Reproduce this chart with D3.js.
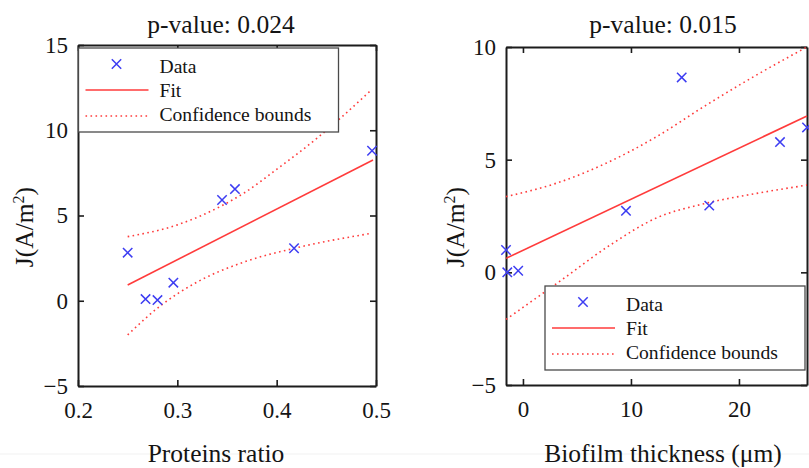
<!DOCTYPE html>
<html>
<head>
<meta charset="utf-8">
<script src="https://cdn.jsdelivr.net/npm/d3@7"></script>
<style>
  html, body { margin: 0; padding: 0; background: #fff; }
  svg { display: block; }
</style>
</head>
<body>
<div id="chart"></div>
<script>
// ---------- Panel 1: Proteins ratio ----------
const proteinsRatio = [0.25, 0.268, 0.28, 0.296, 0.345, 0.358, 0.4175, 0.496];
const proteinsJ     = [2.82, 0.10, 0.04, 1.06, 5.91, 6.55, 3.08, 8.80];
const proteinsFitX  = [0.25, 0.497];
const proteinsFitY  = [0.92, 8.26];
const proteinsUpperX = [0.25, 0.30, 0.344, 0.368, 0.401, 0.442, 0.464, 0.496];
const proteinsUpperY = [3.76, 4.45, 5.55, 6.35, 7.75, 9.60, 10.70, 12.40];
const proteinsLowerX = [0.25, 0.284, 0.3175, 0.368, 0.418, 0.496];
const proteinsLowerY = [-2.00, -0.25, 1.02, 2.29, 3.08, 3.96];
const proteinsXTicks = [0.2, 0.3, 0.4, 0.5];
const proteinsYTicks = [-5, 0, 5, 10, 15];

// ---------- Panel 2: Biofilm thickness ----------
const biofilmThickness = [-1.57, -1.45, -0.44, 9.54, 14.7, 17.25, 23.8, 26.3];
const biofilmJ         = [0.99, 0.00, 0.07, 2.73, 8.65, 2.96, 5.78, 6.43];
const biofilmFitX  = [-1.57, 26.3];
const biofilmFitY  = [0.62, 6.94];
const biofilmUpperX = [-1.57, 3.06, 7.69, 12.3, 16.9, 21.6, 26.3];
const biofilmUpperY = [3.36, 3.95, 4.84, 6.00, 7.40, 8.75, 10.00];
const biofilmLowerX = [-1.57, 3.4, 8.2, 12.3, 16.9, 21.6, 26.3];
const biofilmLowerY = [-2.09, -0.40, 1.25, 2.40, 3.06, 3.50, 3.87];
const biofilmXTicks = [0, 10, 20];
const biofilmYTicks = [-5, 0, 5, 10];

const titles  = ["p-value: 0.024", "p-value: 0.015"];
const xLabels = ["Proteins ratio", "Biofilm thickness (\u03bcm)"];
const legendLabels = ["Data", "Fit", "Confidence bounds"];

const W = 809, H = 468;
const BLUE = "#3d3df2", RED = "#ff3b3b", AXIS = "#1c1c1c";
const FONT = '"Liberation Serif", "Times New Roman", Times, serif';
const CROSS = "M-4.7,-4.7L4.7,4.7M-4.7,4.7L4.7,-4.7";

const svg = d3.select("#chart").append("svg")
  .attr("width", W).attr("height", H);

svg.append("rect").attr("width", W).attr("height", H).attr("fill", "#fff");
// faint scan line of the source picture
svg.append("line").attr("x1", 0).attr("x2", W).attr("y1", 454).attr("y2", 454)
  .attr("stroke", "#f1f1f1").attr("stroke-width", 1);

const panels = [
  {
    title: titles[0], xLabel: xLabels[0],
    xs: proteinsRatio, ys: proteinsJ,
    fitX: proteinsFitX, fitY: proteinsFitY,
    upX: proteinsUpperX, upY: proteinsUpperY,
    loX: proteinsLowerX, loY: proteinsLowerY,
    xDomain: [0.2, 0.5], yDomain: [-5, 15],
    xTicks: proteinsXTicks, yTicks: proteinsYTicks, xFmt: d3.format(".1f"),
    left: 78, right: 376, top: 45, bottom: 386,
    legend: { x: 78.5, y: 48 },
    titleX: 221, xLabelX: 216, yLabelX: 24
  },
  {
    title: titles[1], xLabel: xLabels[1],
    xs: biofilmThickness, ys: biofilmJ,
    fitX: biofilmFitX, fitY: biofilmFitY,
    upX: biofilmUpperX, upY: biofilmUpperY,
    loX: biofilmLowerX, loY: biofilmLowerY,
    xDomain: [-1.57, 26.3], yDomain: [-5, 10],
    xTicks: biofilmXTicks, yTicks: biofilmYTicks, xFmt: d3.format("d"),
    left: 506, right: 807, top: 47, bottom: 385,
    legend: { x: 545, y: 286 },
    titleX: 663, xLabelX: 663, yLabelX: 455
  }
];

panels.forEach(p => {
  const x = d3.scaleLinear().domain(p.xDomain).range([p.left, p.right]);
  const y = d3.scaleLinear().domain(p.yDomain).range([p.bottom, p.top]);
  const g = svg.append("g");

  const styleAxis = sel => {
    sel.attr("font-family", null).attr("font-size", null);
    sel.select(".domain").attr("stroke", AXIS).attr("stroke-width", 2).attr("fill", "none");
    sel.selectAll(".tick line").attr("stroke", AXIS).attr("stroke-width", 1.6);
    sel.selectAll("text").style("font-family", FONT).style("font-size", "23px").attr("fill", "#141414");
  };
  g.append("g").attr("transform", `translate(0,${p.bottom})`)
    .call(d3.axisBottom(x).tickValues(p.xTicks).tickFormat(p.xFmt).tickSize(-6).tickSizeOuter(0).tickPadding(16))
    .call(styleAxis);
  g.append("g").attr("transform", `translate(0,${p.top})`)
    .call(d3.axisTop(x).tickValues(p.xTicks).tickFormat("").tickSize(-6).tickSizeOuter(0))
    .call(styleAxis);
  g.append("g").attr("transform", `translate(${p.left},0)`)
    .call(d3.axisLeft(y).tickValues(p.yTicks).tickFormat(d3.format("d")).tickSize(-6).tickSizeOuter(0).tickPadding(10))
    .call(styleAxis);
  g.append("g").attr("transform", `translate(${p.right},0)`)
    .call(d3.axisRight(y).tickValues(p.yTicks).tickFormat("").tickSize(-6).tickSizeOuter(0))
    .call(styleAxis);

  const line = d3.line().x(d => x(d[0])).y(d => y(d[1]));
  const curve = d3.line().x(d => x(d[0])).y(d => y(d[1])).curve(d3.curveMonotoneX);

  // confidence bounds
  [[p.upX, p.upY], [p.loX, p.loY]].forEach(([bx, by]) => {
    g.append("path").datum(bx.map((v, i) => [v, by[i]]))
      .attr("d", curve).attr("fill", "none")
      .attr("stroke", RED).attr("stroke-width", 1.6)
      .attr("stroke-dasharray", "1.6 3.4");
  });
  // fit
  g.append("path").datum(p.fitX.map((v, i) => [v, p.fitY[i]]))
    .attr("d", line).attr("fill", "none")
    .attr("stroke", RED).attr("stroke-width", 1.6);

  // data markers
  g.selectAll(".pt").data(p.xs.map((v, i) => [v, p.ys[i]])).enter()
    .append("path").attr("class", "pt")
    .attr("transform", d => `translate(${x(d[0])},${y(d[1])})`)
    .attr("d", CROSS)
    .attr("stroke", BLUE).attr("stroke-width", 1.5).attr("fill", "none");

  // legend
  const L = g.append("g").attr("transform", `translate(${p.legend.x},${p.legend.y})`);
  L.append("rect").attr("width", 260).attr("height", 84)
    .attr("fill", "#fff").attr("stroke", "#4a4a4a").attr("stroke-width", 1.3);
  L.append("path").attr("transform", "translate(38,16)")
    .attr("d", CROSS)
    .attr("stroke", BLUE).attr("stroke-width", 1.5);
  L.append("line").attr("x1", 7).attr("x2", 70).attr("y1", 42).attr("y2", 42)
    .attr("stroke", RED).attr("stroke-width", 1.6);
  L.append("line").attr("x1", 7).attr("x2", 70).attr("y1", 68).attr("y2", 68)
    .attr("stroke", RED).attr("stroke-width", 1.6).attr("stroke-dasharray", "1.6 3.4");
  [25, 49, 73].forEach((by, i) => {
    L.append("text").attr("x", 81).attr("y", by)
      .style("font-family", FONT).style("font-size", "19.6px").attr("fill", "#141414")
      .text(legendLabels[i]);
  });

  // title
  svg.append("text").attr("x", p.titleX).attr("y", 33).attr("text-anchor", "middle")
    .style("font-family", FONT).style("font-size", "25.5px").attr("fill", "#141414").text(p.title);
  // x label
  svg.append("text").attr("x", p.xLabelX).attr("y", 462).attr("text-anchor", "middle")
    .style("font-family", FONT).style("font-size", "25.5px").attr("fill", "#141414").text(p.xLabel);
  // y label
  const yl = svg.append("text")
    .attr("transform", `translate(${p.yLabelX},227) rotate(-90)`)
    .attr("text-anchor", "middle").attr("dy", "0.35em")
    .style("font-family", FONT).style("font-size", "25.5px").attr("fill", "#141414");
  yl.append("tspan").text("J(A/m");
  yl.append("tspan").style("font-size", "16px").attr("dy", "-0.55em").text("2");
  yl.append("tspan").attr("dy", "0.35em").text(")");
});
</script>
</body>
</html>
